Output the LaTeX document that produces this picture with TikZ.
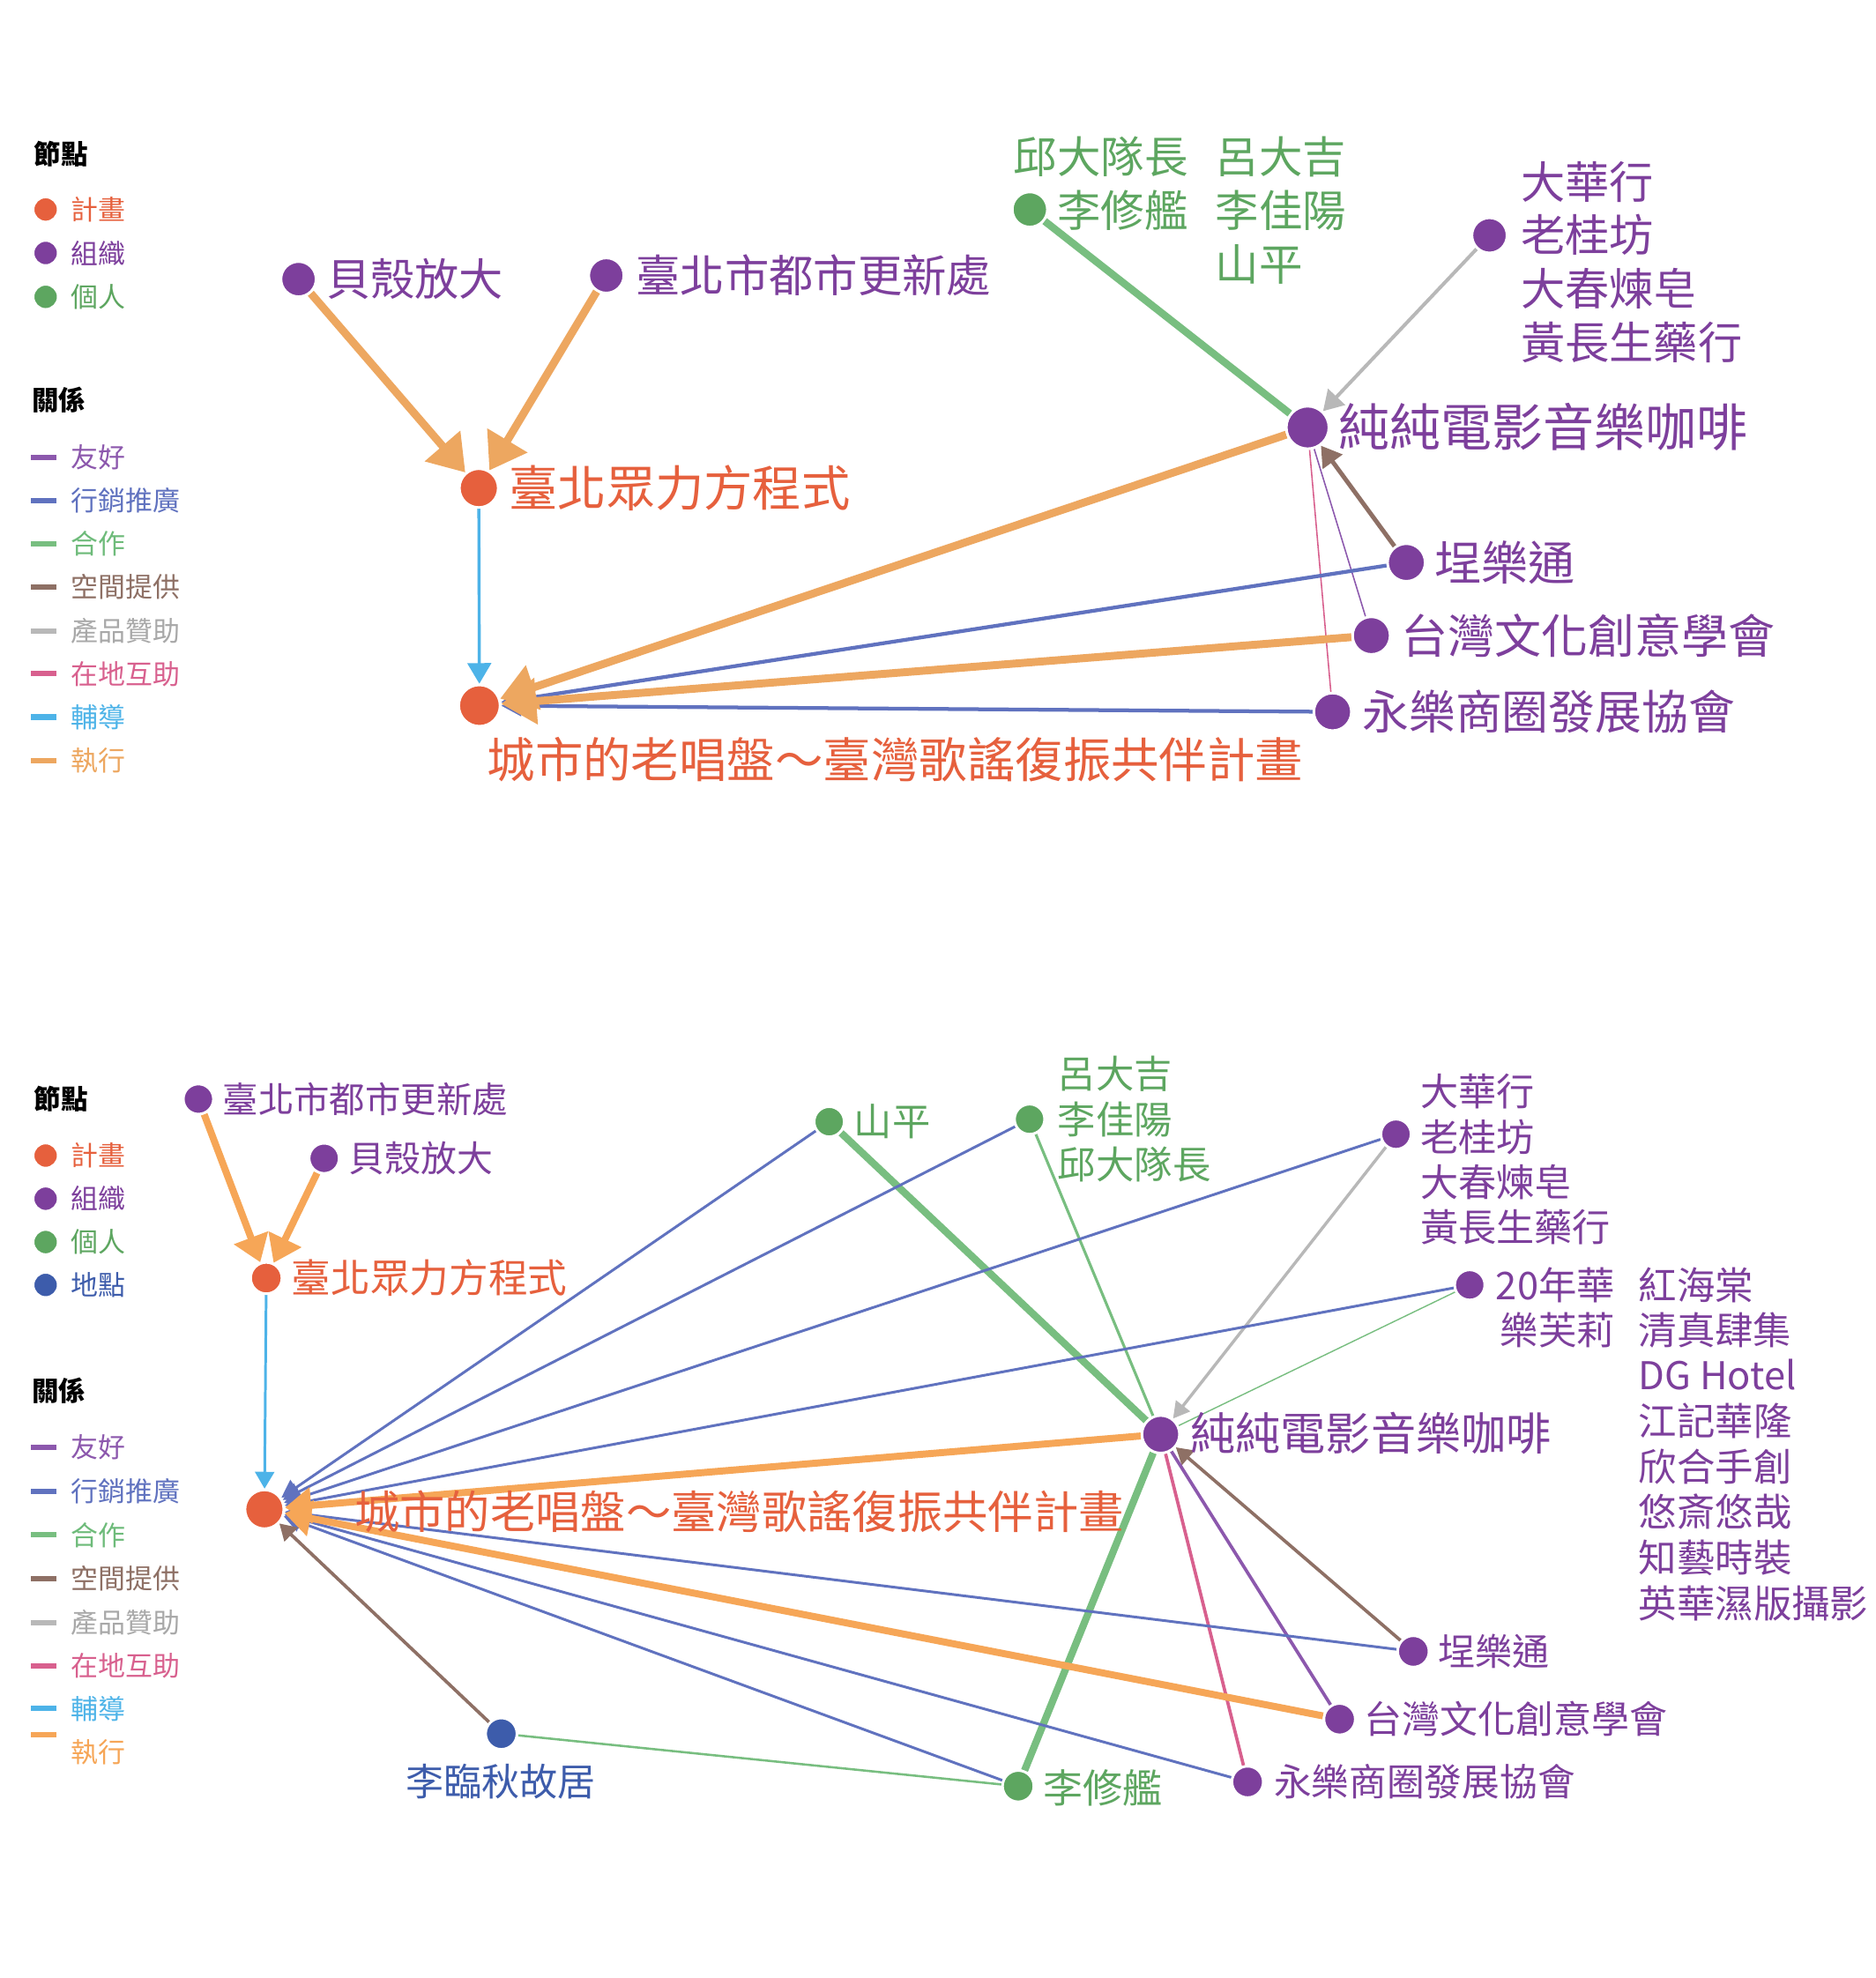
\documentclass[tikz,border=0pt]{standalone}
\usepackage{fontspec}
\setmainfont{Noto Sans CJK TC}
\usetikzlibrary{arrows.meta}
\pgfdeclarelayer{bg}
\pgfsetlayers{bg,main}
\definecolor{cPlan}{HTML}{E6603D}
\definecolor{cOrg}{HTML}{7D3F9C}
\definecolor{cPer}{HTML}{5DA660}
\definecolor{cLoc}{HTML}{3D5CAB}
\definecolor{eFriend}{HTML}{8C58AD}
\definecolor{eMkt}{HTML}{6072BF}
\definecolor{eCoop}{HTML}{78BE80}
\definecolor{eSpace}{HTML}{8E7065}
\definecolor{eProd}{HTML}{B8B8B8}
\definecolor{eLocal}{HTML}{D8608E}
\definecolor{eGuide}{HTML}{4DB3E8}
\definecolor{eExec}{HTML}{EDA760}
\definecolor{eExecB}{HTML}{F6A657}
\definecolor{tProd}{HTML}{A8A8A8}
\definecolor{tCoop}{HTML}{6EBB7A}
\tikzset{
  dot/.style={circle, draw=white, line width=2pt, inner sep=0pt},
  lab/.style={inner sep=0pt, anchor=west},
  lhead/.style={inner sep=0pt, anchor=west, font=\bfseries\fontsize{21.5}{25}\selectfont},
  ltext/.style={inner sep=0pt, anchor=west, font=\fontsize{21.8}{25}\selectfont},
  lline/.style={line width=4.3pt},
  tExec/.style={draw=eExec, line width=6.3pt, -{Triangle[length=28pt,width=36pt]}},
  tMkt/.style={draw=eMkt, line width=3pt, -{Triangle[length=16pt,width=16pt]}},
  tGuide/.style={draw=eGuide, line width=2.4pt, -{Triangle[length=16.5pt,width=18.8pt]}},
  tProdE/.style={draw=eProd, line width=2.8pt, -{Triangle[length=15.8pt,width=18.4pt]}},
  tSpace/.style={draw=eSpace, line width=3.5pt, -{Triangle[length=16pt,width=18.9pt]}},
  tCoopE/.style={draw=eCoop, line width=5.9pt},
  tFriend/.style={draw=eFriend, line width=1.1pt},
  tLocal/.style={draw=eLocal, line width=1.1pt},
  bExec/.style={draw=eExecB, line width=5.6pt, -{Triangle[length=21pt,width=28pt]}},
  bMkt/.style={draw=eMkt, line width=2.1pt, -{Triangle[length=14pt,width=15pt]}},
  bGuide/.style={draw=eGuide, line width=2.1pt, -{Triangle[length=13.5pt,width=15.3pt]}},
  bProdE/.style={draw=eProd, line width=2.4pt, -{Triangle[length=13pt,width=14pt]}},
  bSpace/.style={draw=eSpace, line width=2.6pt, -{Triangle[length=13pt,width=15pt]}},
  bCoopE/.style={draw=eCoop, line width=5.8pt},
  bCoopThin/.style={draw=eCoop, line width=2.2pt},
  bCoopHair/.style={draw=eCoop, line width=1.0pt},
  bCoopMid/.style={draw=eCoop, line width=1.8pt},
  bFriend/.style={draw=eFriend, line width=2.6pt},
  bLocal/.style={draw=eLocal, line width=2.6pt},
}
\begin{document}
\begin{tikzpicture}[x=1pt,y=-1pt]
\begin{pgfonlayer}{bg}
\fill[white] (0,0) rectangle (1500,1582.5);
\end{pgfonlayer}
\useasboundingbox (0,0) rectangle (1500,1582.5);

% ================= TOP LEGEND =================
\node[lhead] (TLh1) at (27,123) {節點};
\node[dot, fill=cPlan, minimum size=20pt] (TLd1) at (36.5,167.6) {};
\node[ltext, text=cPlan] (TLt1) at (56.5,167.6) {計畫};
\node[dot, fill=cOrg, minimum size=20pt] (TLd2) at (36.5,202.4) {};
\node[ltext, text=cOrg] (TLt2) at (56.5,202.4) {組織};
\node[dot, fill=cPer, minimum size=20pt] (TLd3) at (36.5,237.5) {};
\node[ltext, text=cPer] (TLt3) at (56.5,237.5) {個人};
\node[lhead] (TLh2) at (25.5,320) {關係};
\draw[lline, eFriend] (25,366) -- (45,366);
\node[ltext, text=eFriend] (TLr1) at (56.5,366) {友好};
\draw[lline, eMkt] (25,400.5) -- (45,400.5);
\node[ltext, text=eMkt] (TLr2) at (56.5,400.5) {行銷推廣};
\draw[lline, eCoop] (25,435) -- (45,435);
\node[ltext, text=tCoop] (TLr3) at (56.5,435) {合作};
\draw[lline, eSpace] (25,469.7) -- (45,469.7);
\node[ltext, text=eSpace] (TLr4) at (56.5,469.7) {空間提供};
\draw[lline, eProd] (25,505) -- (45,505);
\node[ltext, text=tProd] (TLr5) at (56.5,505) {產品贊助};
\draw[lline, eLocal] (25,539) -- (45,539);
\node[ltext, text=eLocal] (TLr6) at (56.5,539) {在地互助};
\draw[lline, eGuide] (25,573.7) -- (45,573.7);
\node[ltext, text=eGuide] (TLr7) at (56.5,573.7) {輔導};
\draw[lline, eExec] (25,608.6) -- (45,608.6);
\node[ltext, text=eExec] (TLr8) at (56.5,608.6) {執行};

% ================= TOP NODES =================
\node[dot, fill=cOrg, minimum size=28pt] (Tbeike) at (238.8,223.3) {};
\node[lab, text=cOrg, font=\fontsize{35.4}{43}\selectfont] (TbeikeL) at (261,223.3) {貝殼放大};
\node[dot, fill=cOrg, minimum size=28pt] (Tdushi) at (485,220.4) {};
\node[lab, text=cOrg, font=\fontsize{35.5}{43}\selectfont] (TdushiL) at (508.5,220.4) {臺北市都市更新處};
\node[dot, fill=cPlan, minimum size=31pt] (Tzhong) at (383,390.5) {};
\node[lab, text=cPlan, font=\fontsize{39}{46}\selectfont] (TzhongL) at (407,390.5) {臺北眾力方程式};
\node[dot, fill=cPlan, minimum size=33pt] (Tcity) at (383.5,564.5) {};
\node[lab, text=cPlan, font=\fontsize{38.4}{46}\selectfont] (TcityL) at (389.5,607.5) {城市的老唱盤～臺灣歌謠復振共伴計畫};
\node[dot, fill=cPer, minimum size=28pt] (Tqiu) at (823.8,167.6) {};
\node[inner sep=0pt, anchor=base west, text=cPer, font=\fontsize{34.9}{43}\selectfont] (TqiuL) at (810.5,138.9)
  {\begin{tabular}[t]{@{}r@{\hspace{22pt}}l@{}}邱大隊長 & 呂大吉\\ 李修艦 & 李佳陽\\ & 山平\end{tabular}};
\node[dot, fill=cOrg, minimum size=28pt] (Tdahua) at (1191.5,188.3) {};
\node[inner sep=0pt, anchor=base west, text=cOrg, font=\fontsize{35.4}{42.8}\selectfont] (TdahuaL) at (1216.5,158.8)
  {\begin{tabular}[t]{@{}l@{}}大華行\\ 老桂坊\\ 大春煉皂\\ 黃長生藥行\end{tabular}};
\node[dot, fill=cOrg, minimum size=34pt] (Tchun) at (1046,342) {};
\node[lab, text=cOrg, font=\fontsize{40.9}{48}\selectfont] (TchunL) at (1071,341.5) {純純電影音樂咖啡};
\node[dot, fill=cOrg, minimum size=30pt] (Tcheng) at (1125,450) {};
\node[lab, text=cOrg, font=\fontsize{37.5}{43}\selectfont] (TchengL) at (1147.5,450) {埕樂通};
\node[dot, fill=cOrg, minimum size=30pt] (Ttw) at (1097,508.5) {};
\node[lab, text=cOrg, font=\fontsize{37.4}{43}\selectfont] (TtwL) at (1120.5,508.5) {台灣文化創意學會};
\node[dot, fill=cOrg, minimum size=30pt] (Tyong) at (1066,569.5) {};
\node[lab, text=cOrg, font=\fontsize{37.3}{43}\selectfont] (TyongL) at (1089.5,569.5) {永樂商圈發展協會};

\begin{pgfonlayer}{bg}
\draw[tExec] (Tbeike) -- (Tzhong);
\draw[tExec] (Tdushi) -- (Tzhong);
\draw[tGuide] (Tzhong) -- (Tcity);
\draw[tCoopE] (Tqiu) -- (Tchun);
\draw[tProdE] (Tdahua) -- (Tchun);
\draw[tSpace] (Tcheng) -- (Tchun);
\draw[tFriend] (Ttw) -- (Tchun);
\draw[tLocal] (Tyong) -- (Tchun);
\draw[tMkt] (Tcheng) -- (Tcity);
\draw[tMkt] (Tyong) -- (Tcity);
\draw[tExec] (Tchun) -- (Tcity);
\draw[tExec] (Ttw) -- (Tcity);
\end{pgfonlayer}

% ================= BOTTOM LEGEND =================
\node[lhead] (BLh1) at (27,879.3) {節點};
\node[dot, fill=cPlan, minimum size=20pt] (BLd1) at (36.5,924.5) {};
\node[ltext, text=cPlan] (BLt1) at (56.5,924.5) {計畫};
\node[dot, fill=cOrg, minimum size=20pt] (BLd2) at (36.5,959) {};
\node[ltext, text=cOrg] (BLt2) at (56.5,959) {組織};
\node[dot, fill=cPer, minimum size=20pt] (BLd3) at (36.5,993.7) {};
\node[ltext, text=cPer] (BLt3) at (56.5,993.7) {個人};
\node[dot, fill=cLoc, minimum size=20pt] (BLd4) at (36.5,1028) {};
\node[ltext, text=cLoc] (BLt4) at (56.5,1028) {地點};
\node[lhead] (BLh2) at (25.5,1112.6) {關係};
\draw[lline, eFriend] (25,1158) -- (45,1158);
\node[ltext, text=eFriend] (BLr1) at (56.5,1158) {友好};
\draw[lline, eMkt] (25,1193) -- (45,1193);
\node[ltext, text=eMkt] (BLr2) at (56.5,1193) {行銷推廣};
\draw[lline, eCoop] (25,1228) -- (45,1228);
\node[ltext, text=tCoop] (BLr3) at (56.5,1228) {合作};
\draw[lline, eSpace] (25,1263) -- (45,1263);
\node[ltext, text=eSpace] (BLr4) at (56.5,1263) {空間提供};
\draw[lline, eProd] (25,1298) -- (45,1298);
\node[ltext, text=tProd] (BLr5) at (56.5,1298) {產品贊助};
\draw[lline, eLocal] (25,1333) -- (45,1333);
\node[ltext, text=eLocal] (BLr6) at (56.5,1333) {在地互助};
\draw[lline, eGuide] (25,1367) -- (45,1367);
\node[ltext, text=eGuide] (BLr7) at (56.5,1367) {輔導};
\draw[lline, eExecB] (25,1388) -- (45,1388);
\node[ltext, text=eExecB] (BLr8) at (56.5,1401.5) {執行};

% ================= BOTTOM NODES =================
\node[dot, fill=cOrg, minimum size=24pt] (Bdushi) at (158.7,879.3) {};
\node[lab, text=cOrg, font=\fontsize{28.5}{34}\selectfont] (BdushiL) at (178,879.3) {臺北市都市更新處};
\node[dot, fill=cOrg, minimum size=24pt] (Bbeike) at (259.3,926.7) {};
\node[lab, text=cOrg, font=\fontsize{28.8}{34}\selectfont] (BbeikeL) at (279,926.7) {貝殼放大};
\node[dot, fill=cPlan, minimum size=25pt] (Bzhong) at (213,1022.5) {};
\node[lab, text=cPlan, font=\fontsize{31.5}{37}\selectfont] (BzhongL) at (233,1022.5) {臺北眾力方程式};
\node[dot, fill=cPlan, minimum size=31pt] (Bcity) at (211.5,1207.5) {};
\node[lab, text=cPlan, font=\fontsize{36.2}{42}\selectfont] (BcityL) at (283.5,1209) {城市的老唱盤～臺灣歌謠復振共伴計畫};
\node[dot, fill=cLoc, minimum size=25pt] (Bli) at (401,1387) {};
\node[inner sep=0pt, text=cLoc, font=\fontsize{30.4}{36}\selectfont] (BliL) at (400.5,1425.6) {李臨秋故居};
\node[dot, fill=cPer, minimum size=24pt] (Bshan) at (663.3,897.4) {};
\node[lab, text=cPer, font=\fontsize{30.5}{35}\selectfont] (BshanL) at (683,897.4) {山平};
\node[dot, fill=cPer, minimum size=24pt] (Blu) at (823.6,895.4) {};
\node[inner sep=0pt, anchor=base west, text=cPer, font=\fontsize{30.6}{35.2}\selectfont] (BluL) at (846,870.8)
  {\begin{tabular}[t]{@{}l@{}}呂大吉\\ 李佳陽\\ 邱大隊長\end{tabular}};
\node[dot, fill=cOrg, minimum size=24pt] (Bdahua) at (1116.7,907.4) {};
\node[inner sep=0pt, anchor=base west, text=cOrg, font=\fontsize{30.4}{35.5}\selectfont] (BdahuaL) at (1136,884.8)
  {\begin{tabular}[t]{@{}l@{}}大華行\\ 老桂坊\\ 大春煉皂\\ 黃長生藥行\end{tabular}};
\node[dot, fill=cOrg, minimum size=24pt] (B20) at (1175.7,1028) {};
\node[inner sep=0pt, anchor=base west, text=cOrg, font=\fontsize{30.6}{35.6}\selectfont] (B20L) at (1196.5,1039.6)
  {\begin{tabular}[t]{@{}r@{\hspace{19pt}}l@{}}20年華 & 紅海棠\\ 樂芙莉 & 清真肆集\\ & DG Hotel\\ & 江記華隆\\ & 欣合手創\\ & 悠斎悠哉\\ & 知藝時裝\\ & 英華濕版攝影\end{tabular}};
\node[dot, fill=cOrg, minimum size=30pt] (Bchun) at (928.5,1147.5) {};
\node[lab, text=cOrg, font=\fontsize{36.1}{42}\selectfont] (BchunL) at (952,1147) {純純電影音樂咖啡};
\node[dot, fill=cOrg, minimum size=25pt] (Bcheng) at (1130.6,1321.2) {};
\node[lab, text=cOrg, font=\fontsize{29.7}{35}\selectfont] (BchengL) at (1150,1321.2) {埕樂通};
\node[dot, fill=cOrg, minimum size=25pt] (Btw) at (1071.6,1375.4) {};
\node[lab, text=cOrg, font=\fontsize{30.3}{35}\selectfont] (BtwL) at (1091,1375.4) {台灣文化創意學會};
\node[dot, fill=cOrg, minimum size=25pt] (Byong) at (998,1425.6) {};
\node[lab, text=cOrg, font=\fontsize{30.1}{35}\selectfont] (ByongL) at (1019,1425.6) {永樂商圈發展協會};
\node[dot, fill=cPer, minimum size=25pt] (Bxiu) at (814.5,1429) {};
\node[lab, text=cPer, font=\fontsize{31.8}{36}\selectfont] (BxiuL) at (834.5,1430.5) {李修艦};

\begin{pgfonlayer}{bg}
\draw[bExec] (Bdushi) -- (Bzhong);
\draw[bExec] (Bbeike) -- (Bzhong);
\draw[bGuide] (Bzhong) -- (Bcity);
\draw[bCoopMid] (Bli) -- (Bxiu);
\draw[bCoopE] (Bshan) -- (Bchun);
\draw[bCoopThin] (Blu) -- (Bchun);
\draw[bProdE] (Bdahua) -- (Bchun);
\draw[bCoopHair] (B20) -- (Bchun);
\draw[bSpace] (Bcheng) -- (Bchun);
\draw[bFriend] (Btw) -- (Bchun);
\draw[bLocal] (Byong) -- (Bchun);
\draw[bCoopE] (Bxiu) -- (Bchun);
\draw[bMkt] (Bshan) -- (Bcity);
\draw[bMkt] (Blu) -- (Bcity);
\draw[bMkt] (Bdahua) -- (Bcity);
\draw[bMkt] (B20) -- (Bcity);
\draw[bMkt] (Bcheng) -- (Bcity);
\draw[bMkt] (Bxiu) -- (Bcity);
\draw[bMkt] (Byong) -- (Bcity);
\draw[bSpace] (Bli) -- (Bcity);
\draw[bExec] (Bchun) -- (Bcity);
\draw[bExec] (Btw) -- (Bcity);
\end{pgfonlayer}
\end{tikzpicture}
\end{document}
